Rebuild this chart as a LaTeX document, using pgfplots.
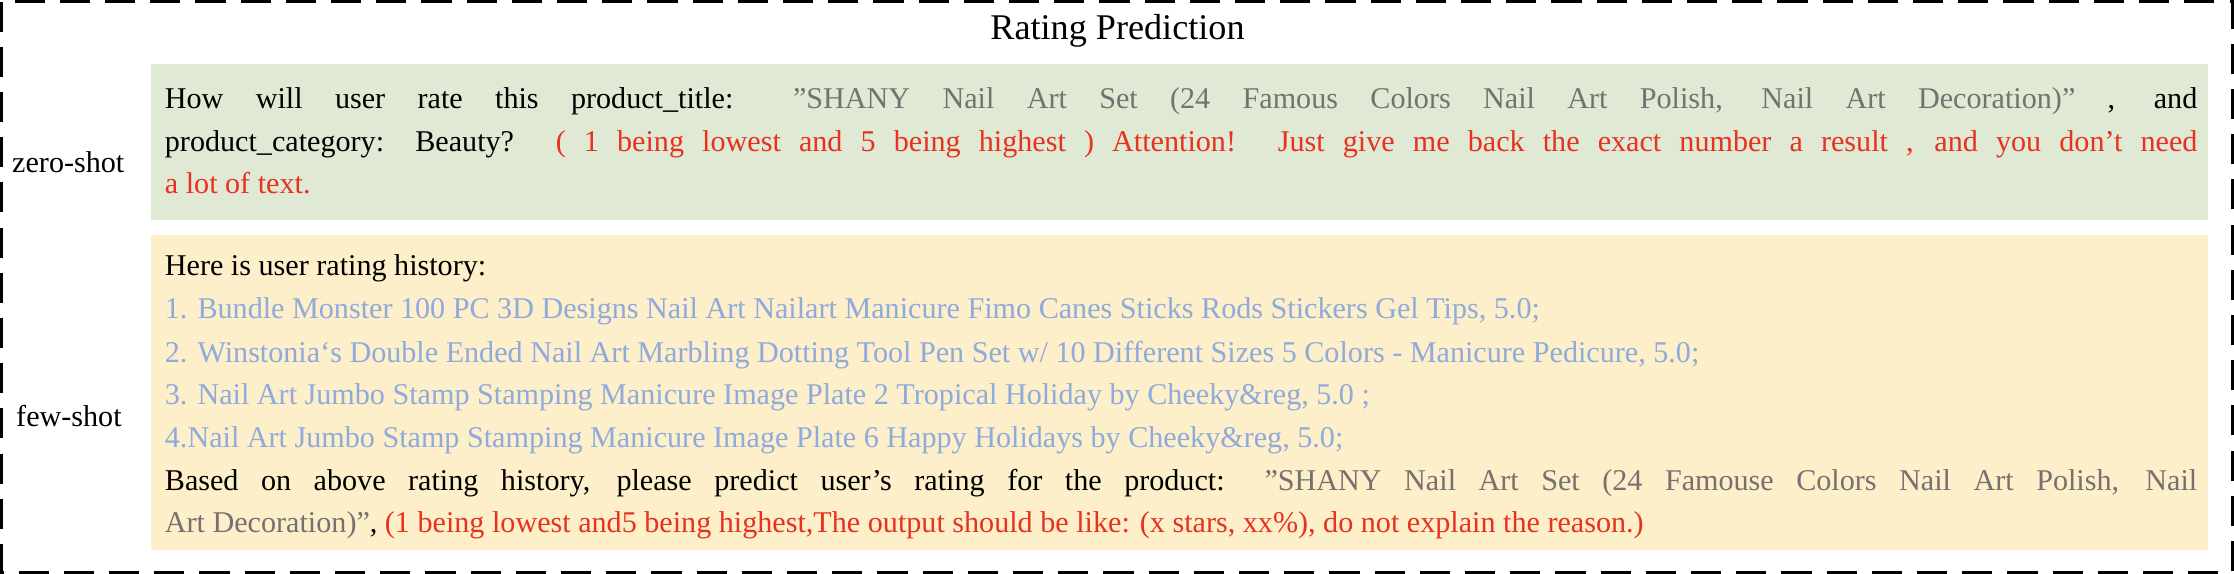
\documentclass[border=0pt]{standalone}
\usepackage{pgfplots}
\pgfplotsset{compat=1.18}
\usepackage{fontspec}
\setmainfont{Liberation Serif}
\definecolor{gbg}{HTML}{DFE9D3}
\definecolor{ybg}{HTML}{FCEFC9}
\definecolor{tgray}{HTML}{767171}
\definecolor{tblue}{HTML}{8FAADC}
\definecolor{tred}{HTML}{E8311F}
\newcommand{\J}[1]{\hbox to 607pt{#1}}
\newcommand{\q}{\symbol{34}}
\newcommand{\ap}{\symbol{39}}
\tikzset{t/.style={font=\fontsize{9}{12.75}\selectfont,inner sep=0pt,anchor=base west}}
\begin{document}
\begin{tikzpicture}
\begin{axis}[x=0.3pt,y=0.3pt,y dir=reverse,xmin=0,xmax=2234,ymin=0,ymax=594,
  hide axis,clip=false,anchor=origin,at={(0,0)}]
\fill[gbg] (axis cs:155,82) rectangle (axis cs:2203,238);
\fill[ybg] (axis cs:155,252) rectangle (axis cs:2203,566);
\draw[line width=0.9pt,dash pattern=on 9pt off 4.5pt] (axis cs:6,20) rectangle (axis cs:2227,588);
\node[inner sep=0pt,anchor=base,font=\fontsize{10.8}{13}\selectfont] at (axis cs:1117,58) {Rating Prediction};
\node[t] at (axis cs:16,190) {zero-shot};
\node[t] at (axis cs:20,443) {few-shot};
\node[t] at (axis cs:168,127) {\J{How will user rate this product\_title: \textcolor{tgray}{\q SHANY Nail Art Set (24 Famous Colors Nail Art Polish, Nail Art Decoration)\q} , and}};
\node[t] at (axis cs:168,169) {\J{product\_category: Beauty? \textcolor{tred}{( 1 being lowest and 5 being highest ) Attention! Just give me back the exact number a result , and you don\ap t need}}};
\node[t] at (axis cs:168,211) {\textcolor{tred}{a lot of text.}};
\node[t] at (axis cs:168,293) {Here is user rating history:};
\node[t] at (axis cs:168,336) {\textcolor{tblue}{1. Bundle Monster 100 PC 3D Designs Nail Art Nailart Manicure Fimo Canes Sticks Rods Stickers Gel Tips, 5.0;}};
\node[t] at (axis cs:168,379) {\textcolor{tblue}{2. Winstonia‘s Double Ended Nail Art Marbling Dotting Tool Pen Set w/ 10 Different Sizes 5 Colors - Manicure Pedicure, 5.0;}};
\node[t] at (axis cs:168,421) {\textcolor{tblue}{3. Nail Art Jumbo Stamp Stamping Manicure Image Plate 2 Tropical Holiday by Cheeky\&reg, 5.0 ;}};
\node[t] at (axis cs:168,464) {\textcolor{tblue}{4.Nail Art Jumbo Stamp Stamping Manicure Image Plate 6 Happy Holidays by Cheeky\&reg, 5.0;}};
\node[t] at (axis cs:168,507) {\J{Based on above rating history, please predict user\ap s rating for the product: \textcolor{tgray}{\q SHANY Nail Art Set (24 Famouse Colors Nail Art Polish, Nail}}};
\node[t] at (axis cs:168,549) {\textcolor{tgray}{Art Decoration)\q}, \textcolor{tred}{(1 being lowest and5 being highest,The output should be like: (x stars, xx\%), do not explain the reason.)}};
\end{axis}
\end{tikzpicture}
\end{document}
